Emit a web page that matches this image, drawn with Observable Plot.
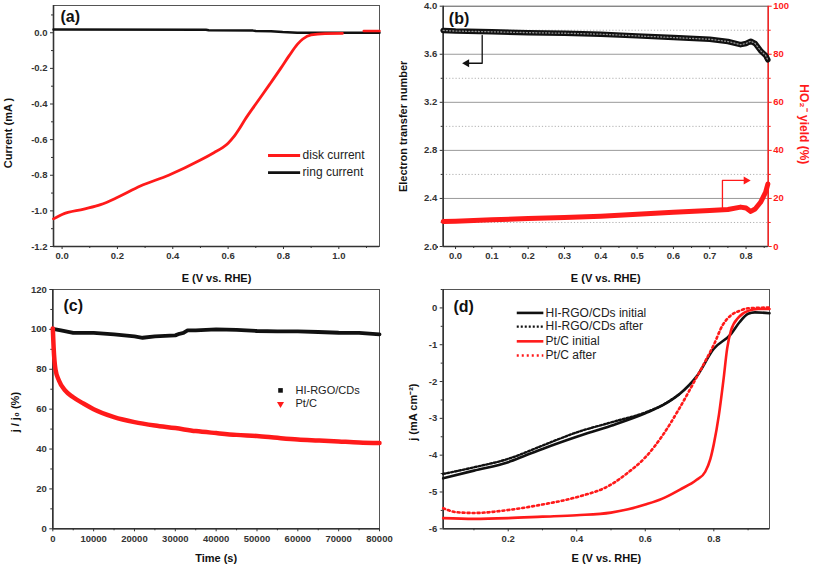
<!DOCTYPE html>
<html><head><meta charset="utf-8">
<script src="https://cdn.jsdelivr.net/npm/d3@7"></script>
<script src="https://cdn.jsdelivr.net/npm/@observablehq/plot@0.6"></script>
<style>
body{margin:0;background:#fff;}
#fig{position:relative;width:815px;height:567px;overflow:hidden;background:#fff;}
#fig svg{position:absolute;overflow:visible;}
</style></head><body><div id="fig"></div>
<script>
// ---------- Panel (a) data ----------
const aDiskE = [-0.031, 0.0, 0.079, 0.139, 0.199, 0.283, 0.385, 0.50, 0.55, 0.58, 0.60, 0.62, 0.64, 0.66, 0.70, 0.75, 0.79, 0.82, 0.85, 0.87, 0.90, 0.95, 1.013];
const aDiskI = [-1.045, -1.02, -0.99, -0.965, -0.925, -0.86, -0.80, -0.715, -0.672, -0.645, -0.62, -0.585, -0.54, -0.49, -0.40, -0.29, -0.20, -0.13, -0.065, -0.035, -0.012, -0.005, -0.004];
const aDiskTailE = [1.09, 1.147];
const aDiskTailI = [0.01, 0.01];
const aRingE = [-0.031, 0.52, 0.53, 0.69, 0.70, 0.755, 0.797, 0.85, 1.147];
const aRingI = [0.018, 0.017, 0.014, 0.012, 0.010, 0.009, 0.004, 0.0, 0.0];
const aXTicks = [0.0, 0.2, 0.4, 0.6, 0.8, 1.0];
const aXMinor = [0.1, 0.3, 0.5, 0.7, 0.9, 1.1];
const aYTicks = [-1.2, -1.0, -0.8, -0.6, -0.4, -0.2, 0.0];
const aYMinor = [-1.1, -0.9, -0.7, -0.5, -0.3, -0.1, 0.1];
const aLegend = ["disk current", "ring current"];

// ---------- Panel (b) data ----------
const bE = [-0.034, 0.0, 0.1, 0.2, 0.3, 0.4, 0.5, 0.6, 0.7, 0.75, 0.785, 0.80, 0.813, 0.825, 0.84, 0.854, 0.86];
const bN = [3.798, 3.793, 3.787, 3.78, 3.775, 3.767, 3.753, 3.739, 3.725, 3.706, 3.68, 3.69, 3.709, 3.69, 3.63, 3.59, 3.554];
const bHO2 = [10.4, 10.5, 11.1, 11.65, 12.07, 12.6, 13.4, 14.3, 15.0, 15.4, 16.4, 16.0, 14.6, 15.6, 18.4, 22.6, 26.0];
const bXTicks = [0.0, 0.1, 0.2, 0.3, 0.4, 0.5, 0.6, 0.7, 0.8];
const bXMinor = [-0.05, 0.05, 0.15, 0.25, 0.35, 0.45, 0.55, 0.65, 0.75, 0.85];
const bYTicks = [2.0, 2.4, 2.8, 3.2, 3.6, 4.0];
const bYMinor = [2.2, 2.6, 3.0, 3.4, 3.8];
const bRightTicks = [0, 20, 40, 60, 80, 100];
const bRightMinor = [10, 30, 50, 70, 90];
const bArrowN = [{x: 0.0734, y: 3.757}, {x: 0.0734, y: 3.525}, {x: 0.031, y: 3.525}];
const bArrowY = [{x: 0.735, y: 15}, {x: 0.735, y: 27.5}, {x: 0.80, y: 27.5}];

// ---------- Panel (c) data ----------
const cTHi = [0, 2000, 5000, 10000, 15000, 20000, 22000, 25000, 30000, 31000, 32000, 33000, 35000, 40000, 45000, 50000, 55000, 60000, 65000, 70000, 75000, 80000];
const cHi = [100.3, 99.5, 98.2, 98.2, 97.5, 96.5, 95.8, 96.5, 97, 97.8, 98.2, 99.5, 99.5, 100, 99.8, 99.2, 99, 99, 98.7, 98.3, 98.2, 97.5];
const cTPt = [0, 200, 650, 1500, 3000, 5000, 7500, 10000, 15000, 20000, 25000, 30000, 35000, 40000, 45000, 50000, 55000, 60000, 65000, 70000, 75000, 80000];
const cPt = [100.5, 91, 80, 74.4, 69.4, 66, 62.8, 60, 56, 53.5, 51.8, 50.5, 49, 48, 47.1, 46.5, 45.6, 44.8, 44.3, 43.8, 43.3, 43];
const cXTicks = [0, 10000, 20000, 30000, 40000, 50000, 60000, 70000, 80000];
const cXMinor = [5000, 15000, 25000, 35000, 45000, 55000, 65000, 75000];
const cYTicks = [0, 20, 40, 60, 80, 100, 120];
const cYMinor = [10, 30, 50, 70, 90, 110];
const cLegend = ["HI-RGO/CDs", "Pt/C"];

// ---------- Panel (d) data ----------
const dHiInitE = [0.0103, 0.1, 0.2, 0.25, 0.3, 0.4, 0.5, 0.6, 0.65, 0.7, 0.75, 0.8, 0.85, 0.875, 0.9, 0.92, 0.9625];
const dHiInit = [-4.63, -4.42, -4.19, -4.01, -3.83, -3.50, -3.2, -2.86, -2.65, -2.34, -1.86, -1.11, -0.71, -0.39, -0.16, -0.12, -0.145];
const dHiAfterE = [0.0103, 0.1, 0.2, 0.3, 0.4, 0.5, 0.6, 0.65, 0.7];
const dHiAfter = [-4.51, -4.33, -4.10, -3.74, -3.38, -3.11, -2.84, -2.64, -2.34];
const dPtInitE = [0.0103, 0.1, 0.2, 0.3, 0.4, 0.5, 0.55, 0.6, 0.65, 0.7, 0.75, 0.775, 0.79, 0.80, 0.815, 0.828, 0.839, 0.85, 0.873, 0.9, 0.93, 0.9625];
const dPtInit = [-5.71, -5.73, -5.71, -5.67, -5.63, -5.56, -5.47, -5.34, -5.18, -4.94, -4.67, -4.45, -4.1, -3.7, -2.9, -1.97, -1.1, -0.62, -0.25, -0.08, -0.03, -0.03];
const dPtAfterE = [0.0103, 0.05, 0.1, 0.2, 0.3, 0.4, 0.5, 0.55, 0.6, 0.65, 0.7, 0.75, 0.775, 0.8, 0.825, 0.85, 0.875, 0.9, 0.9625];
const dPtAfter = [-5.44, -5.55, -5.57, -5.49, -5.34, -5.14, -4.80, -4.47, -4.06, -3.47, -2.72, -1.88, -1.45, -1.0, -0.48, -0.2, -0.08, -0.01, 0.01];
const dXTicks = [0.2, 0.4, 0.6, 0.8];
const dXMinor = [0.1, 0.3, 0.5, 0.7, 0.9];
const dYTicks = [-6, -5, -4, -3, -2, -1, 0];
const dYMinor = [-5.5, -4.5, -3.5, -2.5, -1.5, -0.5, 0.5];
const dLegend = ["HI-RGO/CDs initial", "HI-RGO/CDs after", "Pt/C initial", "Pt/C after"];

// ---------- helpers ----------
const fig = document.getElementById("fig");
const FONT = "Arial, 'Liberation Sans', Helvetica, sans-serif";
const RED = "#ff1a1a", BLACK = "#111", AXC = "#333";
const zip = (xs, ys) => xs.map((x, i) => ({x, y: ys[i]}));

function place(svg, left, top) {
  svg.style.position = "absolute";
  svg.style.left = left + "px";
  svg.style.top = top + "px";
  fig.appendChild(svg);
}
function frameMarks(xd, yd) {
  return [
    Plot.frame({stroke: "#555", strokeWidth: 1}),
    Plot.ruleX([xd[0]], {stroke: AXC, strokeWidth: 1.6}),
    Plot.ruleY([yd[0]], {stroke: AXC, strokeWidth: 1.6})
  ];
}
function axisMarks(xMaj, xMin, xFmt, yMaj, yMin, yFmt) {
  const txt = {fontSize: 9.5, fontWeight: "bold", fill: AXC, stroke: AXC, label: null};
  return [
    Plot.axisX(xMaj, {...txt, anchor: "bottom", tickSize: 3, tickPadding: 3, tickFormat: xFmt}),
    Plot.axisX(xMin, {anchor: "bottom", tickSize: 2, tickFormat: () => "", stroke: AXC, label: null}),
    Plot.axisY(yMaj, {...txt, anchor: "left", tickSize: 3, tickPadding: 3, tickFormat: yFmt}),
    Plot.axisY(yMin, {anchor: "left", tickSize: 2, tickFormat: () => "", stroke: AXC, label: null})
  ];
}
function titleMarks(xLabel, xdy, yLabel, ydx, ydy, tag, tdx, tdy) {
  return [
    Plot.text([xLabel], {text: d => d, frameAnchor: "bottom", dy: xdy, lineAnchor: "middle", textAnchor: "middle", fontWeight: "bold", fontSize: 11, fill: BLACK}),
    Plot.text([yLabel], {text: d => d, frameAnchor: "left", dx: ydx, dy: ydy, rotate: -90, lineAnchor: "middle", textAnchor: "middle", fontWeight: "bold", fontSize: 11, fill: BLACK}),
    Plot.text([tag], {text: d => d, frameAnchor: "top-left", dx: tdx, dy: tdy, lineAnchor: "middle", textAnchor: "start", fontWeight: "bold", fontSize: 16, fill: BLACK})
  ];
}
const baseStyle = {fontFamily: FONT, fontSize: "10px", background: "transparent", overflow: "visible"};

// ---------- Panel (a) ----------
{
  const xd = [-0.031, 1.147], yd = [-1.2, 0.153];
  const lx1 = 0.746, lx2 = 0.862, ltx = 0.869, ly = [-0.689, -0.785];
  const marks = [
    ...frameMarks(xd, yd),
    ...axisMarks(aXTicks, aXMinor, d => d.toFixed(1), aYTicks, aYMinor, d => d.toFixed(1)),
    Plot.line(zip(aRingE, aRingI), {x: "x", y: "y", stroke: BLACK, strokeWidth: 2.5}),
    Plot.line(zip(aDiskE, aDiskI), {x: "x", y: "y", stroke: RED, strokeWidth: 2.8, curve: "monotone-x"}),
    Plot.line(zip(aDiskTailE, aDiskTailI), {x: "x", y: "y", stroke: RED, strokeWidth: 2.5}),
    Plot.ruleY([ly[0]], {x1: lx1, x2: lx2, stroke: RED, strokeWidth: 2.8}),
    Plot.ruleY([ly[1]], {x1: lx1, x2: lx2, stroke: BLACK, strokeWidth: 2.8}),
    Plot.text(aLegend, {x: () => ltx, y: (d, i) => ly[i], text: d => d, textAnchor: "start", lineAnchor: "middle", fontSize: 12, fill: "#222"}),
    ...titleMarks("E (V vs. RHE)", 31.5, "Current (mA )", -45, 7, "(a)", 7, 11.5)
  ];
  place(Plot.plot({width: 400, height: 282, marginLeft: 53, marginRight: 21, marginTop: 5, marginBottom: 36,
    x: {domain: xd, label: null}, y: {domain: yd, label: null}, style: baseStyle, marks}), 0, 0);
}

// ---------- Panel (b) ----------
{
  const xd = [-0.034, 0.861], yd = [2.0, 4.0];
  const toLeft = v => 2 + v / 50;
  const nData = zip(bE, bN);
  const hData = zip(bE, bHO2.map(toLeft));
  const arrY = bArrowY.map(d => ({x: d.x, y: toLeft(d.y)}));
  const marks = [
    Plot.ruleY(bYMinor, {stroke: "#b0b0b0", strokeWidth: 1, strokeDasharray: "1.2 2"}),
    Plot.ruleY(bYTicks.slice(1, -1), {stroke: "#9a9a9a", strokeWidth: 1}),
    ...frameMarks(xd, yd),
    Plot.ruleX([xd[1]], {stroke: RED, strokeWidth: 1.4}),
    ...axisMarks(bXTicks, bXMinor, d => d.toFixed(1), bYTicks, bYMinor, d => d.toFixed(1)),
    Plot.axisY(bRightTicks.map(toLeft), {anchor: "right", tickSize: 3, tickPadding: 2, tickFormat: d => String(Math.round((d - 2) * 50)), fontSize: 9.5, fontWeight: "bold", fill: RED, stroke: RED, label: null}),
    Plot.axisY(bRightMinor.map(toLeft), {anchor: "right", tickSize: 2, tickFormat: () => "", stroke: RED, label: null}),
    Plot.line(nData, {x: "x", y: "y", stroke: BLACK, strokeWidth: 5.5}),
    Plot.line(nData, {x: "x", y: "y", stroke: "#fff", strokeOpacity: 0.55, strokeWidth: 1.3, strokeDasharray: "1 2.2"}),
    Plot.line(hData, {x: "x", y: "y", stroke: RED, strokeWidth: 5}),
    Plot.line(bArrowN, {x: "x", y: "y", stroke: BLACK, strokeWidth: 1.3}),
    Plot.dot([bArrowN[2]], {x: "x", y: "y", symbol: "triangle", r: 3, fill: BLACK, rotate: -90}),
    Plot.line(arrY, {x: "x", y: "y", stroke: RED, strokeWidth: 1.3}),
    Plot.dot([arrY[2]], {x: "x", y: "y", symbol: "triangle", r: 3, fill: RED, rotate: 90}),
    Plot.text(["HO₂⁻ yield (%)"], {text: d => d, frameAnchor: "right", dx: 35.5, dy: -2, rotate: 90, lineAnchor: "middle", textAnchor: "middle", fontWeight: "bold", fontSize: 12, fill: RED}),
    ...titleMarks("E (V vs. RHE)", 31.5, "Electron transfer number", -39.7, 0, "(b)", 5.6, 12.6)
  ];
  place(Plot.plot({width: 420, height: 282, marginLeft: 47.7, marginRight: 47.3, marginTop: 5.7, marginBottom: 36,
    x: {domain: xd, label: null}, y: {domain: yd, label: null}, style: baseStyle, marks}), 395, 0);
}

// ---------- Panel (c) ----------
{
  const xd = [0, 80000], yd = [0, 120];
  const mx = 55760, tx = 59430, my = [69.4, 62.6];
  const marks = [
    ...frameMarks(xd, yd),
    ...axisMarks(cXTicks, cXMinor, d => String(d), cYTicks, cYMinor, d => String(d)),
    Plot.line(zip(cTHi, cHi), {x: "x", y: "y", stroke: BLACK, strokeWidth: 3.8}),
    Plot.line(zip(cTPt, cPt), {x: "x", y: "y", stroke: RED, strokeWidth: 4.5, curve: "monotone-x"}),
    Plot.dot([0], {x: () => mx, y: () => my[0], symbol: "square", r: 2.6, fill: BLACK}),
    Plot.dot([0], {x: () => mx, y: () => my[1], symbol: "triangle", r: 2.6, fill: RED, rotate: 180}),
    Plot.text(cLegend, {x: () => tx, y: (d, i) => my[i], text: d => d, textAnchor: "start", lineAnchor: "middle", fontSize: 11, fill: "#222"}),
    ...titleMarks("Time (s)", 30, "j / j₀ (%)", -37, 3, "(c)", 10.7, 16.5)
  ];
  place(Plot.plot({width: 405, height: 285, marginLeft: 52.3, marginRight: 26, marginTop: 7, marginBottom: 38.7,
    x: {domain: xd, label: null}, y: {domain: yd, label: null}, style: baseStyle, marks}), 0, 282);
}

// ---------- Panel (d) ----------
{
  const xd = [0.0103, 0.9625], yd = [-6, 0.5];
  const lx1 = 0.2264, lx2 = 0.304, ltx = 0.309, ly = [-0.136, -0.508, -0.908, -1.294];
  const styles = [
    {stroke: BLACK, strokeWidth: 2.6},
    {stroke: BLACK, strokeWidth: 2.4, strokeDasharray: "2 2"},
    {stroke: RED, strokeWidth: 2.6},
    {stroke: RED, strokeWidth: 2.6, strokeDasharray: "2 3"}
  ];
  const marks = [
    ...frameMarks(xd, yd),
    ...axisMarks(dXTicks, dXMinor, d => d.toFixed(1), dYTicks, dYMinor, d => String(d)),
    Plot.line(zip(dHiInitE, dHiInit), {x: "x", y: "y", curve: "monotone-x", ...styles[0]}),
    Plot.line(zip(dHiAfterE, dHiAfter), {x: "x", y: "y", curve: "monotone-x", ...styles[1]}),
    Plot.line(zip(dPtAfterE, dPtAfter), {x: "x", y: "y", curve: "monotone-x", ...styles[3]}),
    Plot.line(zip(dPtInitE, dPtInit), {x: "x", y: "y", curve: "monotone-x", ...styles[2]}),
    ...dLegend.map((l, i) => Plot.ruleY([ly[i]], {x1: lx1, x2: lx2, ...styles[i]})),
    Plot.text(dLegend, {x: () => ltx, y: (d, i) => ly[i], text: d => d, textAnchor: "start", lineAnchor: "middle", fontSize: 12, fill: "#222"}),
    ...titleMarks("E (V vs. RHE)", 30, "j (mA cm⁻²)", -30, 3, "(d)", 10.3, 17.5)
  ];
  place(Plot.plot({width: 420, height: 285, marginLeft: 47.7, marginRight: 46, marginTop: 7, marginBottom: 38.7,
    x: {domain: xd, label: null}, y: {domain: yd, label: null}, style: baseStyle, marks}), 395, 282);
}
</script>
</body></html>
